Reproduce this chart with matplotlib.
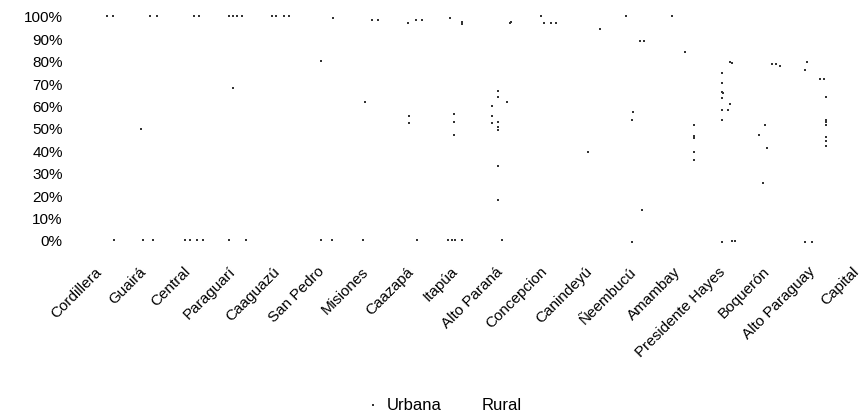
import numpy as np
import matplotlib.pyplot as plt

plt.rcParams['font.family'] = ['Liberation Sans', 'DejaVu Sans']

departamentos = ['Cordillera', 'Guairá', 'Central', 'Paraguarí', 'Caaguazú', 'San Pedro',
                 'Misiones', 'Caazapá', 'Itapúa', 'Alto Paraná', 'Concepcion', 'Canindeyú',
                 'Ñeembucú', 'Amambay', 'Presidente Hayes', 'Boquerón', 'Alto Paraguay', 'Capital']

# puntos (x en unidades de categoria, y en fraccion)
urbana_x = [0.07, 0.20, 1.03, 1.19, 2.02, 2.13, 2.80, 2.89, 2.98, 3.09,
            3.77, 3.86, 4.04, 4.15, 5.13, 6.01, 6.14, 6.82, 7.00, 7.13,
            7.76, 8.03, 8.03, 9.10, 9.13, 9.80, 9.87, 10.02, 10.13, 11.70,
            12.74, 11.12, 12.02, 12.10, 13.03, 14.04, 14.08,
            0.83, 2.89, 4.87, 5.85, 6.84, 6.84, 7.85, 7.85, 7.85,
            8.83, 8.83, 8.83, 8.83, 8.83, 8.83, 8.83, 8.70, 8.70, 8.70, 9.04,
            10.85, 11.84, 11.86, 12.06,
            13.23, 13.23, 13.23, 13.23, 13.23,
            13.86, 13.86, 13.86, 13.88, 13.86, 13.86, 13.86, 13.99, 14.04,
            14.69, 14.78, 14.82, 14.87, 14.98, 15.07, 15.16,
            15.72, 15.76, 16.05, 16.14,
            16.19, 16.19, 16.19, 16.19, 16.19, 16.19, 16.19,
            0.22, 0.87, 1.10, 1.82, 1.93, 2.09, 2.22, 2.80, 3.18, 4.87, 5.11,
            5.81, 7.02, 7.71, 7.80, 7.87, 8.03, 8.92, 11.84, 13.86, 14.08,
            14.15, 15.72, 15.87]
urbana_y = [1.00, 1.00, 1.00, 1.00, 1.00, 1.00, 1.00, 1.00, 1.00, 1.00,
            1.00, 1.00, 1.00, 1.00, 0.99, 0.98, 0.98, 0.97, 0.98, 0.98,
            0.99, 0.975, 0.965, 0.97, 0.975, 1.00, 0.97, 0.97, 0.97, 1.00,
            1.00, 0.94, 0.89, 0.89, 0.84, 0.795, 0.79,
            0.495, 0.68, 0.80, 0.615, 0.554, 0.522, 0.563, 0.527, 0.469,
            0.665, 0.638, 0.527, 0.504, 0.49, 0.33, 0.179, 0.598, 0.554, 0.522, 0.616,
            0.393, 0.536, 0.571, 0.134,
            0.513, 0.464, 0.455, 0.393, 0.357,
            0.746, 0.70, 0.66, 0.655, 0.634, 0.58, 0.536, 0.58, 0.607,
            0.469, 0.254, 0.513, 0.41, 0.786, 0.786, 0.777,
            0.759, 0.795, 0.719, 0.719,
            0.638, 0.536, 0.527, 0.513, 0.46, 0.442, 0.42,
            0.0, 0.0, 0.0, 0.0, 0.0, 0.0, 0.0, 0.0, 0.0, 0.0, 0.0,
            0.0, 0.0, 0.0, 0.0, 0.0, 0.0, 0.0, -0.01, -0.01, -0.005,
            -0.005, -0.01, -0.01]
rural_x = []
rural_y = []

fig = plt.figure(figsize=(8.62, 4.14), dpi=100)
ax = fig.add_axes([85 / 862, (414 - 241) / 414, 777 / 862, 224 / 414])

ax.scatter(urbana_x, urbana_y, s=3, marker='s', color='#333333', linewidths=0,
           clip_on=False, label='Urbana')
ax.scatter(rural_x, rural_y, s=3, marker='s', color='white', linewidths=0,
           label='Rural')

ax.set_xlim(-0.43, 17.0)
ax.set_ylim(0, 1.0)
ticks = np.arange(0, 1.01, 0.1)
ax.set_yticks(ticks)
ax.set_yticklabels([f'{int(round(v * 100))}%' for v in ticks], fontsize=11)
ax.set_xticks(range(len(departamentos)))
ax.set_xticklabels(departamentos, rotation=45, ha='right', fontsize=11)
ax.tick_params(axis='x', length=0, pad=17)
ax.tick_params(axis='y', length=0, pad=16)
for s in ax.spines.values():
  s.set_visible(False)

fig.legend(loc='lower center', bbox_to_anchor=(0.515, -0.035), ncol=2, frameon=False,
           fontsize=12, handlelength=0.8, handletextpad=0.4, columnspacing=1.2)

plt.savefig('out.png', dpi=100)
